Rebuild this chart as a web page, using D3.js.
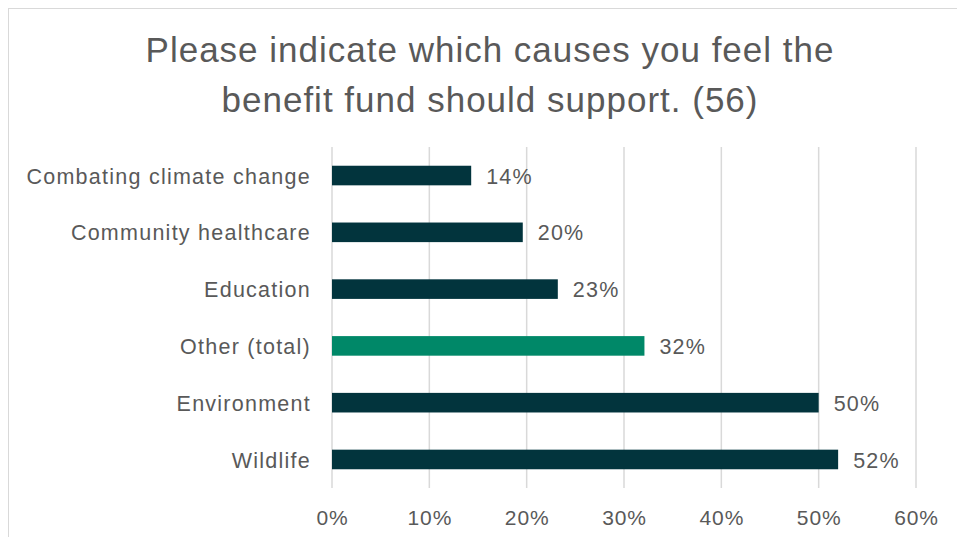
<!DOCTYPE html>
<html>
<head>
<meta charset="utf-8">
<script src="https://cdn.jsdelivr.net/npm/d3@7"></script>
<style>
  html, body { margin: 0; padding: 0; background: #ffffff; }
  svg { display: block; font-family: "Liberation Sans", Arial, sans-serif; }
</style>
</head>
<body>
<svg id="chart" width="957" height="537"></svg>
<script>
// Survey responses: share of respondents choosing each cause (n = 56)
const causes = [
  "Combating climate change",
  "Community healthcare",
  "Education",
  "Other (total)",
  "Environment",
  "Wildlife"
];
const shares = [0.143, 0.196, 0.232, 0.321, 0.500, 0.520];
const highlight = [false, false, false, true, false, false];
const xTicks = [0, 0.1, 0.2, 0.3, 0.4, 0.5, 0.6];
const titleLines = [
  "Please indicate which causes you feel the",
  "benefit fund should support. (56)"
];

const data = causes.map((c, i) => ({ cause: c, value: shares[i], hi: highlight[i] }));

const svg = d3.select("#chart");
const W = 957, H = 537;
const textColor = "#595959";
const barColor = "#02343d";
const hiColor = "#008868";
const pct = d3.format(".0%");

// Chart area frame (light border on top and left)
svg.append("rect")
  .attr("x", 8.5).attr("y", 8.5)
  .attr("width", W + 20).attr("height", H + 20)
  .attr("fill", "#fff").attr("stroke", "#d9d9d9").attr("stroke-width", 1);

// Title
svg.append("text")
  .attr("text-anchor", "middle")
  .attr("fill", textColor)
  .attr("font-size", 35)
  .attr("letter-spacing", 1)
  .selectAll("tspan")
  .data(titleLines)
  .join("tspan")
  .attr("x", 490)
  .attr("y", (d, i) => 62 + i * 50)
  .text(d => d);

const left = 332;
const x = d3.scaleLinear().domain([0, 0.6]).range([left, 916]);
const y = d3.scaleBand().domain(causes).range([147, 488]).paddingInner(0.655).paddingOuter(0.33);

// Vertical gridlines
svg.append("g")
  .selectAll("line")
  .data(xTicks)
  .join("line")
  .attr("x1", d => x(d)).attr("x2", d => x(d))
  .attr("y1", 147).attr("y2", 488)
  .attr("stroke", "#d9d9d9").attr("stroke-width", 1.5);

// X axis labels
const xAxis = d3.axisBottom(x).tickValues(xTicks).tickFormat(pct).tickSize(0).tickPadding(0);
const gx = svg.append("g").attr("transform", "translate(0,525)").call(xAxis);
gx.select(".domain").remove();
gx.selectAll("text")
  .attr("fill", textColor)
  .attr("font-size", 21)
  .attr("letter-spacing", 0.9)
  .attr("font-family", "Liberation Sans, Arial, sans-serif")
  .attr("dy", 0);

// Category labels
const yAxis = d3.axisLeft(y).tickSize(0).tickPadding(21);
const gy = svg.append("g").attr("transform", `translate(${left},0)`).call(yAxis);
gy.select(".domain").remove();
gy.selectAll("text")
  .attr("fill", textColor)
  .attr("font-size", 21.5)
  .attr("letter-spacing", 1.25)
  .attr("dy", "0.38em")
  .attr("font-family", "Liberation Sans, Arial, sans-serif");

// Bars
svg.append("g")
  .selectAll("rect")
  .data(data)
  .join("rect")
  .attr("x", x(0))
  .attr("y", d => y(d.cause))
  .attr("width", d => x(d.value) - x(0))
  .attr("height", y.bandwidth())
  .attr("fill", d => d.hi ? hiColor : barColor);

// Value labels
svg.append("g")
  .selectAll("text")
  .data(data)
  .join("text")
  .attr("x", d => x(d.value) + 15)
  .attr("y", d => y(d.cause) + y.bandwidth() / 2)
  .attr("dy", "0.38em")
  .attr("fill", textColor)
  .attr("font-size", 21.5)
  .attr("letter-spacing", 1.2)
  .text(d => pct(d.value));
</script>
</body>
</html>
